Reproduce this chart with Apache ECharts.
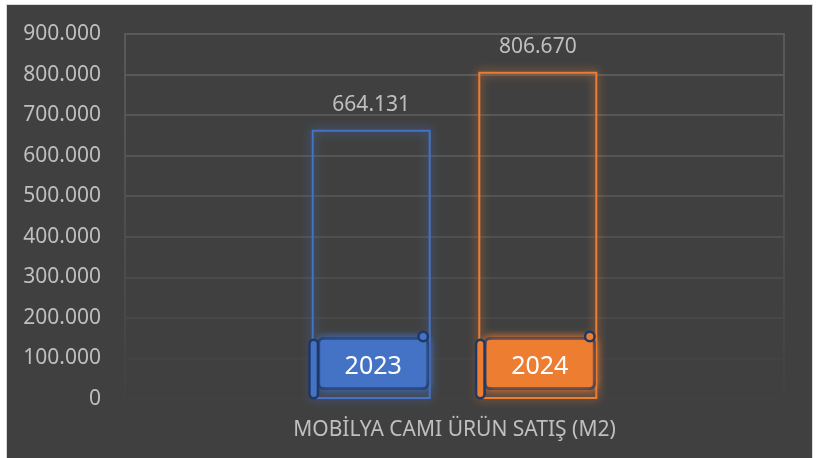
<!DOCTYPE html>
<html>
<head>
<meta charset="utf-8">
<script src="https://cdn.jsdelivr.net/npm/echarts@6/dist/echarts.min.js"></script>
<style>
  html, body { margin: 0; padding: 0; background: #ffffff; }
  #frame {
    position: absolute; left: 6px; top: 4px; width: 805px; height: 460px;
    background: #404040; border: 1px solid #d9d9d9;
  }
  #echarts_main { position: absolute; left: 0; top: 0; width: 835px; height: 458px; }
</style>
</head>
<body>
<div id="frame"></div>
<div id="echarts_main"></div>
<script>
// veriler
var categories = ['MOBİLYA CAMI ÜRÜN SATIŞ (M2)'];
var seriesNames = ['2023', '2024'];
var sales2023 = [664131];
var sales2024 = [806670];
var yTicks = { min: 0, max: 900000, interval: 100000 };

var colors = ['#4472C4', '#ED7D31'];
var navy = '#1f3864';
var fontName = 'Noto Sans';

// 664131 -> "664.131"
function trFormat(v) {
  return String(Math.round(v)).replace(/\B(?=(\d{3})+(?!\d))/g, '.');
}

// ana cubuk: sadece kenarlik + parlama
function outlineBar(name, data, color) {
  return {
    name: name,
    type: 'bar',
    xAxisIndex: 0,
    barWidth: 119,
    barGap: '40%',
    data: data,
    itemStyle: {
      color: 'rgba(0,0,0,0)',
      borderColor: color,
      borderWidth: 2,
      shadowBlur: 10,
      shadowColor: color
    },
    label: {
      show: true,
      position: 'top',
      distance: 14,
      color: '#bfbfbf',
      fontFamily: fontName,
      fontSize: 21,
      formatter: function (p) { return trFormat(p.value); }
    }
  };
}

// etiket parcalari ayni cubuk yerlesimini kullanan gizli serilerle ciziliyor
function hiddenBar(name, data, axisIdx, z, label) {
  return {
    name: name,
    type: 'bar',
    xAxisIndex: axisIdx,
    barWidth: 119,
    barGap: '40%',
    data: data,
    z: z,
    silent: true,
    itemStyle: { color: 'rgba(0,0,0,0)' },
    label: label
  };
}

function bannerSeries(name, data, color) {
  return [
    // ana levha
    hiddenBar(name + ' etiket', data, 1, 5, {
      show: true,
      position: 'insideBottom',
      distance: 12,
      offset: [2, 0],
      formatter: name,
      color: '#ffffff',
      fontFamily: fontName,
      fontSize: 25,
      width: 106,
      height: 40,
      lineHeight: 40,
      padding: [7, 0, 0, 0],
      align: 'center',
      backgroundColor: color,
      borderColor: navy,
      borderWidth: 3,
      borderRadius: 3,
      shadowBlur: 8,
      shadowColor: color
    }),
    // rulo: sag ust halka
    hiddenBar(name + ' halka', data, 2, 6, {
      show: true,
      position: 'insideBottomRight',
      distance: 0,
      offset: [-4, -59],
      formatter: ' ',
      width: 7,
      height: 7,
      padding: 0,
      backgroundColor: color,
      borderColor: navy,
      borderWidth: 2.5,
      borderRadius: 6
    }),
    // rulo: sol dikey silindir
    hiddenBar(name + ' rulo', data, 3, 6, {
      show: true,
      position: 'insideBottomLeft',
      distance: 0,
      offset: [-1, -2],
      formatter: ' ',
      width: 6,
      height: 56,
      padding: 0,
      backgroundColor: color,
      borderColor: navy,
      borderWidth: 2.5,
      borderRadius: 5
    })
  ];
}

var hiddenAxis = { type: 'category', data: categories, show: false };

var myChart = echarts.init(document.getElementById('echarts_main'));
myChart.setOption({
  animation: false,
  backgroundColor: 'transparent',
  textStyle: { fontFamily: fontName },
  grid: {
    left: 125,
    right: 51,
    top: 34,
    bottom: 59,
    show: true,
    backgroundColor: 'transparent',
    borderWidth: 2,
    borderColor: new echarts.graphic.LinearGradient(0, 0, 0, 1, [
      { offset: 0, color: '#5a5a5a' },
      { offset: 0.7, color: '#4a4a4a' },
      { offset: 1, color: '#414141' }
    ])
  },
  xAxis: [
    {
      type: 'category',
      data: categories,
      axisLine: { show: false },
      axisTick: { show: false },
      axisLabel: {
        color: '#bfbfbf',
        fontSize: 21,
        margin: 21
      }
    },
    hiddenAxis, hiddenAxis, hiddenAxis
  ],
  yAxis: {
    type: 'value',
    min: yTicks.min,
    max: yTicks.max,
    interval: yTicks.interval,
    axisLine: { show: false },
    axisTick: { show: false },
    axisLabel: {
      color: '#bfbfbf',
      fontSize: 21,
      margin: 24,
      formatter: trFormat
    },
    splitLine: {
      lineStyle: {
        width: 2,
        color: ['rgba(0,0,0,0)', '#434343', '#474747', '#4b4b4b', '#4f4f4f',
                '#525252', '#555555', '#575757', '#595959', '#5a5a5a']
      }
    }
  },
  series: [
    outlineBar(seriesNames[0], sales2023, colors[0]),
    outlineBar(seriesNames[1], sales2024, colors[1])
  ].concat(
    bannerSeries(seriesNames[0], sales2023, colors[0]),
    bannerSeries(seriesNames[1], sales2024, colors[1])
  )
});
</script>
</body>
</html>
